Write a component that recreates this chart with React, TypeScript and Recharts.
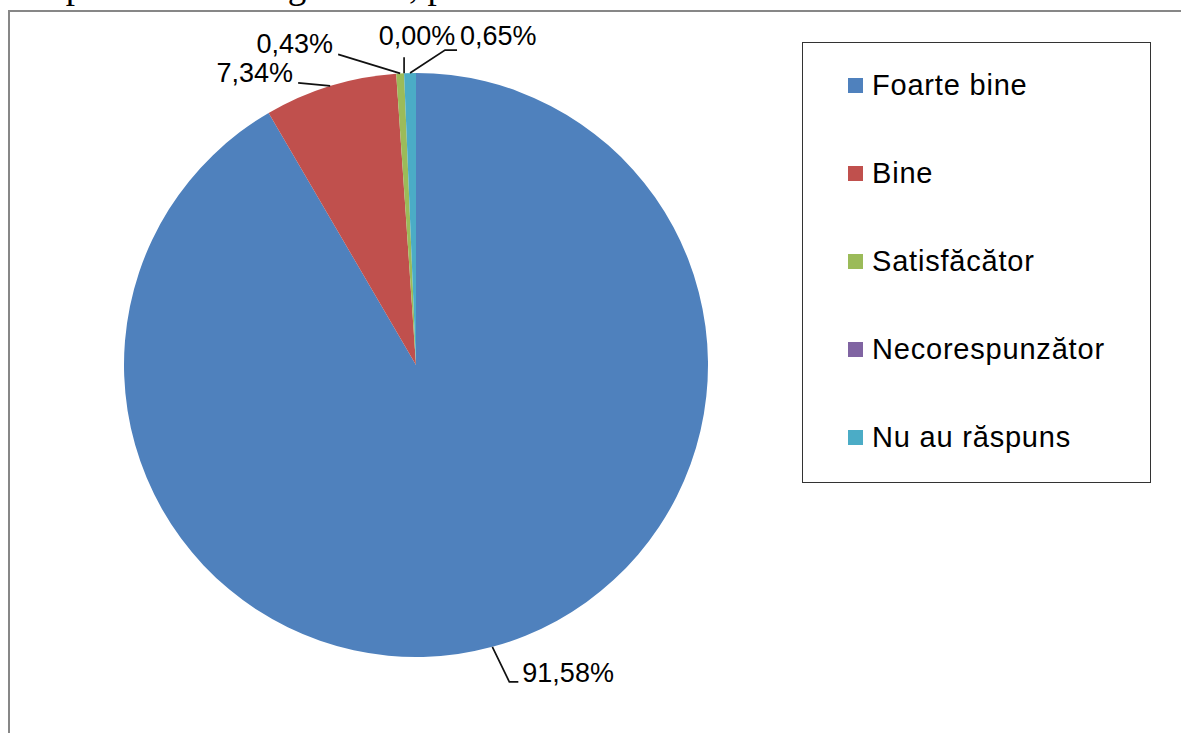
import { PieChart, Pie, Legend } from "recharts";

const categories = ["Foarte bine", "Bine", "Satisfăcător", "Necorespunzător", "Nu au răspuns"];
const shares = [91.58, 7.34, 0.43, 0.0, 0.65];
const shareLabels = ["91,58%", "7,34%", "0,43%", "0,00%", "0,65%"];
const colors = ["#4f81bd", "#c0504d", "#9bbb59", "#8064a2", "#4bacc6"];

// leader line bends + text spot for each label, relative to the slice's edge point
const leaders = [
  { pts: [[17, 35], [26, 35]], tx: 30, ty: 35, anchor: "start" },
  { pts: [[-32, -3]], tx: -37, ty: -4, anchor: "end" },
  { pts: [[-62, -19]], tx: -67, ty: -20, anchor: "end" },
  { pts: [[0, -16]], tx: 13, ty: -28, anchor: "middle" },
  { pts: [[35, -23], [47, -23]], tx: 50, ty: -28, anchor: "start" },
];

const pieData = categories.map((name, i) => ({ name, value: shares[i], fill: colors[i] }));

const RAD = Math.PI / 180;
const sans = "'Liberation Sans', Arial, sans-serif";

function renderLabel(props: any) {
  const { cx, cy, midAngle, outerRadius, index } = props;
  const x0 = cx + outerRadius * Math.cos(-midAngle * RAD);
  const y0 = cy + outerRadius * Math.sin(-midAngle * RAD);
  const l = leaders[index];
  const pts = [[x0, y0], ...l.pts.map(([dx, dy]) => [x0 + dx, y0 + dy])];
  return (
    <g key={`lbl-${index}`}>
      <polyline
        points={pts.map((p) => p.join(",")).join(" ")}
        fill="none"
        stroke="#111"
        strokeWidth={1.7}
      />
      <text
        x={x0 + l.tx}
        y={y0 + l.ty}
        textAnchor={l.anchor as any}
        fill="#000"
        fontSize={27}
        fontFamily={sans}
      >
        {shareLabels[index]}
      </text>
    </g>
  );
}

function LegendBox() {
  return (
    <div
      style={{
        width: 349,
        height: 441,
        border: "1px solid #333",
        boxSizing: "border-box",
        background: "#fff",
      }}
    >
      <div style={{ marginTop: -2 }}>
        {categories.map((name, i) => (
          <div key={name} style={{ height: 88, display: "flex", alignItems: "center", paddingLeft: 45 }}>
            <span style={{ width: 15, height: 15, background: colors[i], marginRight: 9, flex: "none" }} />
            <span style={{ fontFamily: sans, fontSize: 29, letterSpacing: 0.8, color: "#000", whiteSpace: "nowrap" }}>
              {name}
            </span>
          </div>
        ))}
      </div>
    </div>
  );
}

export default function App() {
  return (
    <div
      style={{
        position: "fixed",
        left: 0,
        top: 0,
        width: 1181,
        height: 733,
        overflow: "hidden",
        background: "#fff",
      }}
    >
      {/* tail of the document line above the figure, mostly cut off */}
      <div
        style={{
          position: "absolute",
          left: -1,
          top: -33,
          fontFamily: "'Liberation Serif', 'Times New Roman', serif",
          fontSize: 37,
          lineHeight: "37px",
          whiteSpace: "nowrap",
          color: "#000",
        }}
      >
        este prezentată în figura 4.4, pe baza datelor din tabelul 4.4.
      </div>
      <div
        style={{
          position: "absolute",
          left: 8,
          top: 10,
          width: 1200,
          height: 760,
          borderTop: "2px solid #878787",
          borderLeft: "2px solid #878787",
          boxSizing: "border-box",
          background: "#fff",
        }}
      />
      <div style={{ position: "absolute", left: 0, top: 0 }}>
        <PieChart width={1181} height={733} margin={{ top: 0, right: 0, bottom: 0, left: 0 }}>
          <Pie
            data={pieData}
            dataKey="value"
            nameKey="name"
            cx={416}
            cy={365}
            outerRadius={292}
            startAngle={90}
            endAngle={-270}
            stroke="none"
            label={renderLabel}
            labelLine={false}
            isAnimationActive={false}
          />
          <Legend
            layout="vertical"
            align="right"
            verticalAlign="top"
            content={() => <LegendBox />}
            wrapperStyle={{ left: 802, top: 42, width: 349, height: 441 }}
          />
        </PieChart>
      </div>
    </div>
  );
}
